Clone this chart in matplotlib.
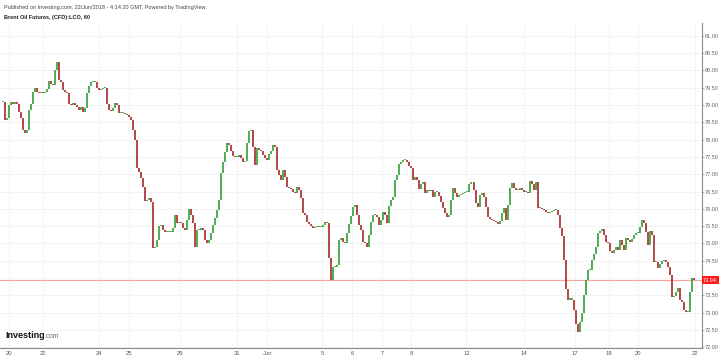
import matplotlib
matplotlib.use('Agg')
import matplotlib.pyplot as plt
import numpy as np

plt.rcParams['font.family'] = ['Liberation Sans', 'DejaVu Sans']

# hourly closes, Brent (CFD) LCO, 20 May - 22 Jun 2018
closes = [
    79.09, 78.57, 78.63, 79.00, 79.09, 79.03, 79.09, 79.03, 78.80, 78.63,
    78.28, 78.19, 78.28, 78.86, 79.03, 79.38, 79.49, 79.38, 79.35, 79.38,
    79.35, 79.38, 79.46, 79.69, 79.61, 79.58, 80.01, 80.24, 79.72, 79.67,
    79.43, 79.38, 79.35, 79.03, 79.00, 79.06, 79.00, 78.94, 78.86, 78.94,
    78.80, 78.92, 79.35, 79.55, 79.67, 79.67, 79.67, 79.49, 79.43, 79.46,
    79.49, 79.49, 79.03, 78.86, 78.83, 78.92, 79.06, 79.00, 78.77, 78.77,
    78.77, 78.74, 78.71, 78.66, 78.57, 78.28, 77.99, 77.18, 77.07, 76.90,
    76.64, 76.23, 76.26, 76.32, 76.20, 74.88, 74.91, 75.11, 75.51, 75.54,
    75.40, 75.34, 75.34, 75.34, 75.34, 75.45, 75.83, 75.60, 75.63, 75.60,
    75.45, 75.40, 75.69, 76.00, 75.83, 75.60, 74.91, 75.40, 75.40, 75.45,
    75.40, 75.11, 75.02, 75.11, 75.31, 75.54, 75.74, 75.97, 76.26, 77.04,
    77.36, 77.65, 77.91, 77.85, 77.68, 77.53, 77.50, 77.50, 77.56, 77.47,
    77.36, 77.39, 77.91, 78.25, 78.28, 77.79, 77.27, 77.76, 77.70, 77.68,
    77.56, 77.47, 77.42, 77.59, 77.68, 77.85, 77.79, 77.13, 76.98, 76.84,
    77.13, 76.93, 76.64, 76.61, 76.58, 76.49, 76.46, 76.64, 76.55, 76.32,
    75.89, 75.83, 75.63, 75.57, 75.51, 75.45, 75.48, 75.48, 75.48, 75.48,
    75.54, 75.63, 75.60, 74.59, 73.95, 74.33, 74.33, 74.39, 75.11, 75.17,
    75.05, 75.02, 75.31, 75.57, 75.80, 76.06, 76.12, 75.83, 75.54, 75.40,
    75.05, 75.02, 74.91, 75.25, 75.63, 75.83, 75.83, 75.77, 75.54, 75.69,
    75.92, 75.83, 75.60, 76.09, 76.26, 76.35, 76.84, 76.98, 77.30, 77.36,
    77.42, 77.42, 77.36, 77.24, 77.18, 76.84, 76.93, 76.84, 76.58, 76.72,
    76.78, 76.46, 76.55, 76.52, 76.55, 76.35, 76.49, 76.49, 76.38, 76.20,
    76.03, 75.89, 75.77, 75.83, 76.26, 76.61, 76.46, 76.35, 76.41, 76.43,
    76.46, 76.49, 76.49, 76.72, 76.78, 76.55, 76.18, 76.06, 76.41, 76.46,
    76.35, 76.06, 75.77, 75.71, 75.69, 75.66, 75.63, 75.57, 75.66, 75.89,
    76.03, 75.69, 76.12, 76.61, 76.75, 76.61, 76.55, 76.55, 76.61, 76.55,
    76.49, 76.49, 76.46, 76.81, 76.72, 76.55, 76.78, 76.03, 76.03, 76.00,
    75.97, 75.92, 75.89, 75.92, 75.94, 75.97, 75.97, 75.83, 75.45, 75.22,
    74.53, 73.67, 73.38, 73.38, 73.38, 73.09, 72.66, 72.45, 72.74, 73.00,
    73.52, 73.95, 74.24, 74.24, 74.53, 74.70, 74.91, 75.31, 75.37, 75.43,
    75.25, 75.05, 75.02, 74.79, 74.73, 74.82, 74.91, 74.82, 75.11, 74.96,
    74.82, 75.17, 75.11, 75.05, 75.14, 75.25, 75.31, 75.31, 75.48, 75.69,
    75.60, 75.34, 74.96, 75.37, 75.25, 74.47, 74.47, 74.30, 74.42, 74.50,
    74.53, 74.47, 74.33, 74.10, 73.44, 73.47, 73.61, 73.72, 73.38, 73.32,
    73.09, 73.03, 73.03, 73.61, 74.01, 73.94,
]
opens = [closes[0]] + closes[:-1]

last_price = 73.94
tick_pos = [3, 20, 48, 63, 88.5, 117, 132, 159.5, 174.5, 189.5, 204, 231.5,
            260, 285.5, 302.5, 317, 345.5]
tick_labels = ['20', '22', '24', '25', '29', '31', 'Jun', '5', '6', '7', '8',
               '12', '14', '17', '19', '20', '22']
price_ticks = np.arange(72.0, 81.01, 0.5)

fig = plt.figure(figsize=(7.19, 3.58), dpi=100)
ax = fig.add_axes([0.0, 0.028, 0.976, 0.908])

x = np.arange(len(closes))
c = np.array(closes)
o = np.array(opens)
up = c >= o
lo = np.minimum(o, c)
hi = np.maximum(np.maximum(o, c), lo + 0.03)
ax.vlines(x[up], lo[up], hi[up], colors='#2a9a2a', lw=1.15,
          capstyle='butt', zorder=3)
ax.vlines(x[~up], lo[~up], hi[~up], colors='#a31f1f', lw=1.15,
          capstyle='butt', zorder=3)

ax.axhline(last_price, color='#f5a3a3', lw=0.8, zorder=2)

ax.set_xlim(-1.5, 349)
ax.set_ylim(71.98, 81.37)
ax.set_yticks(price_ticks)
# the 74.00 label sits under the last-price box
ax.set_yticklabels(['' if abs(v - 74.0) < 1e-6 else '%.2f' % v for v in price_ticks])
ax.set_xticks(tick_pos)
ax.set_xticklabels(tick_labels)
ax.grid(True, color='#f1f1f1', lw=0.6, zorder=0)

ax.yaxis.tick_right()
for s in ['top', 'left']:
    ax.spines[s].set_visible(False)
ax.spines['right'].set_color('#8a8a8a')
ax.spines['bottom'].set_color('#8a8a8a')
ax.spines['right'].set_linewidth(0.8)
ax.spines['bottom'].set_linewidth(0.8)
ax.tick_params(axis='y', labelsize=4.0, colors='#8a8a8a', labelcolor='#666666',
               length=1.5, width=0.5, pad=0.8)
ax.tick_params(axis='x', labelsize=4.2, colors='#8a8a8a', labelcolor='#555555',
               length=0, pad=2)

ax.text(1.002, last_price, '%.2f' % last_price, transform=ax.get_yaxis_transform(),
        fontsize=4.0, color='white', va='center', ha='left', zorder=10,
        bbox=dict(boxstyle='square,pad=0.25', fc='#ff1a1a', ec='none'))

fig.text(0.006, 0.985, 'Published on Investing.com, 22/Jun/2018 - 4:14:20 GMT, Powered by TradingView.',
         fontsize=4.0, color='#444444', va='top', ha='left')
fig.text(0.006, 0.958, 'Brent Oil Futures, (CFD):LCO, 60',
         fontsize=4.0, color='#222222', va='top', ha='left', weight='bold')
fig.text(0.007, 0.05, 'Investing', fontsize=6.5, weight='bold', color='#111111',
         va='bottom', ha='left')
fig.text(0.062, 0.05, '.com', fontsize=4.8, color='#666666', va='bottom', ha='left')

fig.savefig('out.png', dpi=100)
